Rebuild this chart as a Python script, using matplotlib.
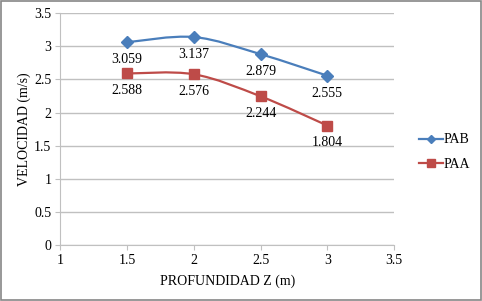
import matplotlib.pyplot as plt
from matplotlib.path import Path
from matplotlib.patches import PathPatch, Rectangle
from matplotlib.lines import Line2D

plt.rcParams['font.family'] = ['Liberation Serif', 'DejaVu Serif']

depth = [1.5, 2.0, 2.5, 3.0]
pab = [3.059, 3.137, 2.879, 2.555]
paa = [2.588, 2.576, 2.244, 1.804]
labels_pab = ["3.059", "3.137", "2.879", "2.555"]
labels_paa = ["2.588", "2.576", "2.244", "1.804"]


def smooth_path(x, y):
    # Excel-style smoothed line: cubic Bezier segments through the points
    verts = [(x[0], y[0])]
    codes = [Path.MOVETO]
    n = len(x)
    for i in range(n - 1):
        x0, y0 = (x[i - 1], y[i - 1]) if i > 0 else (x[i], y[i])
        x3, y3 = (x[i + 2], y[i + 2]) if i + 2 < n else (x[i + 1], y[i + 1])
        c1 = (x[i] + (x[i + 1] - x0) / 6, y[i] + (y[i + 1] - y0) / 6)
        c2 = (x[i + 1] - (x3 - x[i]) / 6, y[i + 1] - (y3 - y[i]) / 6)
        verts += [c1, c2, (x[i + 1], y[i + 1])]
        codes += [Path.CURVE4] * 3
    return Path(verts, codes)


fig = plt.figure(figsize=(4.82, 3.01), dpi=100)
ax = fig.add_axes([0.1255, 0.185, 0.692, 0.772])

blue = '#4a7ebb'
red = '#be4b48'
fs = 10

for ys, col, mk, ms, labs in [(pab, blue, 'D', 6.5, labels_pab),
                              (paa, red, 's', 7, labels_paa)]:
    ax.add_patch(PathPatch(smooth_path(depth, ys), fill=False, edgecolor=col,
                           lw=1.6, zorder=3))
    ax.plot(depth, ys, ls='none', marker=mk, ms=ms, color=col, zorder=4)
    for xv, yv, t in zip(depth, ys, labs):
        ax.annotate(t, (xv, yv), xytext=(0, -12.5), textcoords='offset points',
                    ha='center', va='center', fontsize=fs)

ax.set_xlim(1, 3.5)
ax.set_ylim(0, 3.5)
ax.set_xticks([1, 1.5, 2, 2.5, 3, 3.5])
ax.set_xticklabels(['1', '1.5', '2', '2.5', '3', '3.5'])
ax.set_yticks([0, 0.5, 1, 1.5, 2, 2.5, 3, 3.5])
ax.set_yticklabels(['0', '0.5', '1', '1.5', '2', '2.5', '3', '3.5'])
ax.grid(axis='y', color='#c0c0c0', lw=1)
ax.set_axisbelow(True)
for s in ['top', 'right']:
    ax.spines[s].set_visible(False)
for s in ['left', 'bottom']:
    ax.spines[s].set_color('#c0c0c0')
ax.tick_params(colors='#c0c0c0', labelcolor='black', labelsize=fs, length=3.5, pad=3)
ax.set_xlabel('PROFUNDIDAD Z (m)', fontsize=fs, labelpad=5.5)
ax.set_ylabel('VELOCIDAD (m/s)', fontsize=fs, labelpad=2)

handles = [Line2D([], [], color=blue, marker='D', ms=4.5, lw=1.6),
           Line2D([], [], color=red, marker='s', ms=5.5, lw=1.6)]
fig.legend(handles, ['PAB', 'PAA'], loc='center left',
           bbox_to_anchor=(419 / 482, 1 - 152 / 301), frameon=False, fontsize=fs,
           handlelength=1.7, handletextpad=0.1, labelspacing=0.8,
           borderpad=0, borderaxespad=0)

fig.patches.append(Rectangle((0.002, 0.003), 0.995, 0.994, transform=fig.transFigure,
                             fill=False, edgecolor='#868686', lw=1.2))

fig.savefig('out.png', dpi=100)
